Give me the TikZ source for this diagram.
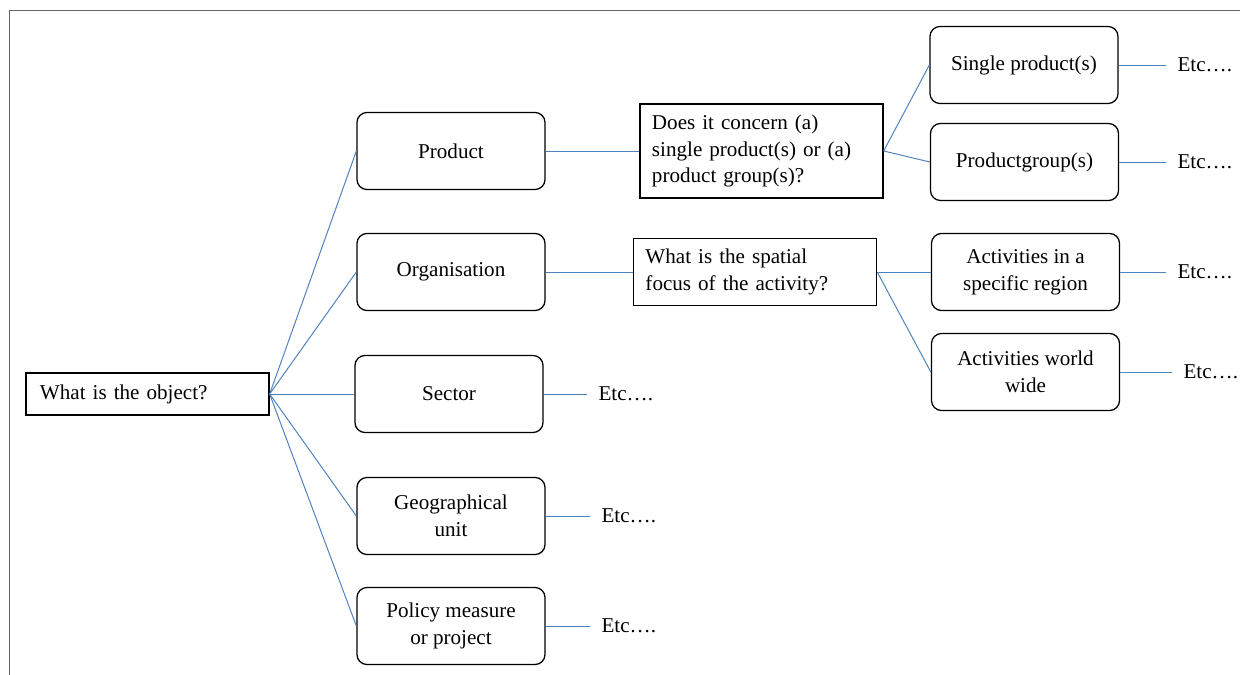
\documentclass[tikz,border=0pt]{standalone}
\usepackage{fontspec}
\setmainfont{Liberation Serif}
\definecolor{linkblue}{RGB}{79,129,189}

\begin{document}
\begin{tikzpicture}[x=0.025cm, y=-0.025cm,
  every node/.style={font=\fontsize{15}{19}\selectfont},
  rootbox/.style={draw, line width=.9pt, text width=5.375cm, inner xsep=.35cm, inner ysep=0pt, minimum height=1.05cm, align=left},
  rbox/.style={draw, rounded corners=.25cm, line width=.9pt, minimum width=4.7cm, minimum height=1.925cm, inner sep=0pt, align=center},
  qbox/.style={draw, line width=.9pt, text width=5.475cm, inner xsep=.3cm, inner ysep=0pt, align=left},
  etc/.style={anchor=west, inner xsep=8pt, inner ysep=0pt},
  link/.style={draw=linkblue, line width=.7pt}]
\useasboundingbox (0,0) rectangle (1240,675);
\draw[gray!80!black, line width=.7pt] (9,675) -- (9,10) -- (1240,10);

\node[rootbox] (object) at (147.5,394) {What is the object?};

\node[rbox] (product) at (451,151) {Product};
\node[rbox] (organisation) at (451,272) {Organisation};
\node[rbox] (sector) at (449,394) {Sector};
\node[rbox] (geo) at (451,516) {Geographical\\unit};
\node[rbox] (policy) at (451,626) {Policy measure\\or project};

\node[qbox, minimum height=2.35cm] (concern) at (761.5,151) {Does it concern (a)\\single product(s) or (a)\\product group(s)?};
\node[qbox, minimum height=1.675cm] (spatial) at (755,272) {What is the spatial\\focus of the activity?};

\node[rbox] (single) at (1024,65) {Single product(s)};
\node[rbox] (group) at (1024.5,162) {Productgroup(s)};
\node[rbox] (region) at (1025.5,272) {Activities in a\\specific region};
\node[rbox] (world) at (1025.5,372) {Activities world\\wide};

\node[etc] (etcsector) at (587,394) {Etc….};
\node[etc] (etcgeo) at (590,516) {Etc….};
\node[etc] (etcpolicy) at (590,626) {Etc….};
\node[etc] (etcsingle) at (1166,65) {Etc….};
\node[etc] (etcgroup) at (1166,162) {Etc….};
\node[etc] (etcregion) at (1166,272) {Etc….};
\node[etc] (etcworld) at (1172,372) {Etc….};

\draw[link] (object.east) -- (product.west);
\draw[link] (object.east) -- (organisation.west);
\draw[link] (object.east) -- (sector.west);
\draw[link] (object.east) -- (geo.west);
\draw[link] (object.east) -- (policy.west);
\draw[link] (product.east) -- (concern.west);
\draw[link] (organisation.east) -- (spatial.west);
\draw[link] (concern.east) -- (single.west);
\draw[link] (concern.east) -- (group.west);
\draw[link] (spatial.east) -- (region.west);
\draw[link] (spatial.east) -- (world.west);
\draw[link] (sector.east) -- (etcsector.west);
\draw[link] (geo.east) -- (etcgeo.west);
\draw[link] (policy.east) -- (etcpolicy.west);
\draw[link] (single.east) -- (etcsingle.west);
\draw[link] (group.east) -- (etcgroup.west);
\draw[link] (region.east) -- (etcregion.west);
\draw[link] (world.east) -- (etcworld.west);
\end{tikzpicture}
\end{document}
